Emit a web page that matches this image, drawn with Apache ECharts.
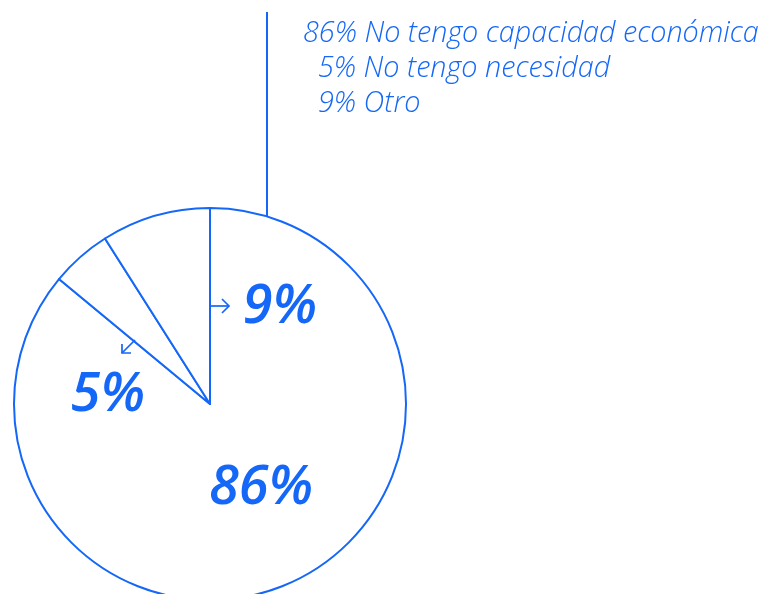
<!DOCTYPE html>
<html><head><meta charset="utf-8">
<script src="https://cdn.jsdelivr.net/npm/echarts@6/dist/echarts.min.js"></script>
<style>html,body{margin:0;padding:0;background:#fff}#c{width:767px;height:594px}</style>
</head><body><div id="c"></div>
<script>
const categories = ['No tengo capacidad económica', 'No tengo necesidad', 'Otro'];
const values = [86, 5, 9];
const pctLabels = ['86%', '5%', '9%'];

const BLUE = '#1467f7';
const chart = echarts.init(document.getElementById('c'));
const labelPos = [[261, 489], [108, 396], [280, 308]];
const font = '"Open Sans", "Noto Sans", sans-serif';
const lt = {color: BLUE, fontFamily: font, fontStyle: 'italic', fontWeight: 300, fontSize: 28.75, lineHeight: 35};

chart.setOption({
  animation: false,
  backgroundColor: '#ffffff',
  legend: {
    orient: 'vertical',
    left: 293, top: 11,
    icon: 'none', itemWidth: 0, itemGap: 0,
    selectedMode: false,
    data: categories,
    formatter: name => {
      const i = categories.indexOf(name);
      const s = values[i] >= 10 ? 'p' : 'q';
      return '{' + s + '|' + values[i] + '%}{n| ' + name + '}';
    },
    textStyle: Object.assign({}, lt, {
      rich: {
        p: Object.assign({}, lt),
        q: Object.assign({padding: [0, 0, 0, 15]}, lt),
        n: Object.assign({}, lt)
      }
    })
  },
  series: [{
    type: 'pie',
    center: [210, 404],
    radius: 196,
    startAngle: 90,
    clockwise: true,
    silent: true,
    avoidLabelOverlap: false,
    minShowLabelAngle: 0,
    itemStyle: {color: '#ffffff', borderColor: BLUE, borderWidth: 2},
    label: {
      show: true,
      position: 'inside',
      formatter: p => pctLabels[p.dataIndex],
      color: BLUE, fontFamily: font, fontStyle: 'italic', fontWeight: 600, fontSize: 54
    },
    labelLine: {show: false},
    labelLayout: p => ({x: labelPos[p.dataIndex][0], y: labelPos[p.dataIndex][1], align: 'center', verticalAlign: 'middle', hideOverlap: false}),
    data: categories.map((c, i) => ({name: c, value: values[i]}))
  }],
  graphic: [
    {type: 'line', z: 100, shape: {x1: 267, y1: 12, x2: 267, y2: 217}, style: {stroke: BLUE, lineWidth: 2}},
    {type: 'polyline', z: 100, shape: {points: [[211, 306], [229, 306]]}, style: {stroke: BLUE, lineWidth: 1.7, fill: null}},
    {type: 'polyline', z: 100, shape: {points: [[222, 299], [229, 306], [222, 313]]}, style: {stroke: BLUE, lineWidth: 1.7, fill: null}},
    {type: 'polyline', z: 100, shape: {points: [[135, 340], [122, 353]]}, style: {stroke: BLUE, lineWidth: 1.7, fill: null}},
    {type: 'polyline', z: 100, shape: {points: [[122, 344], [122, 353], [131, 353]]}, style: {stroke: BLUE, lineWidth: 1.7, fill: null}}
  ]
});
</script></body></html>
